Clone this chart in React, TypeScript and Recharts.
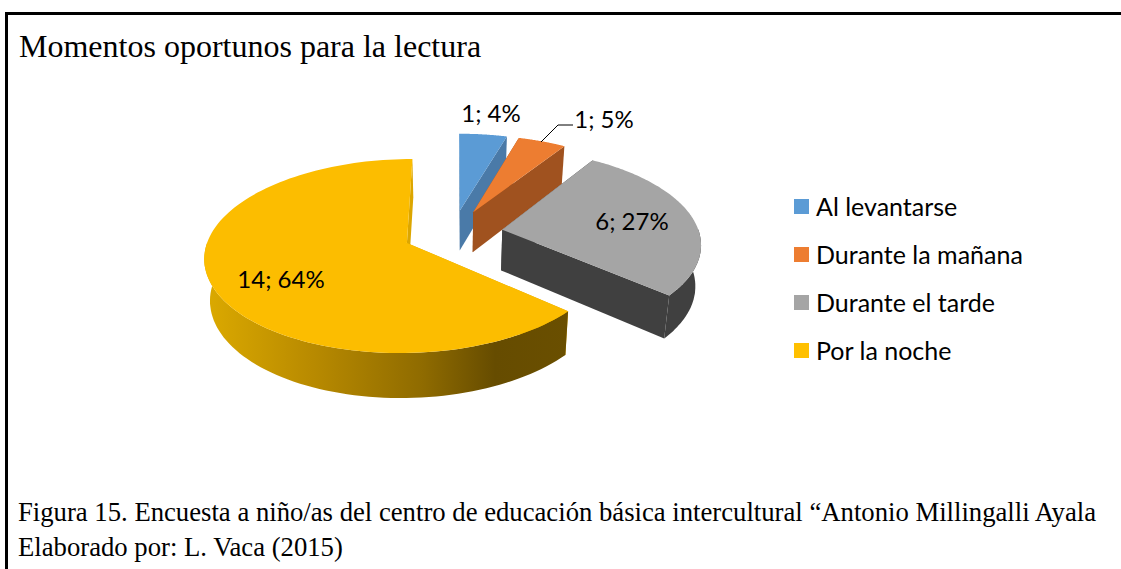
import React from 'react';
import { PieChart, Pie, Legend } from 'recharts';

const categories = ['Al levantarse', 'Durante la mañana', 'Durante el tarde', 'Por la noche'];
const counts = [1, 1, 6, 14];
const shares = [4, 5, 27, 64];
const topColors = ['#5b9bd5', '#ed7d31', '#a5a5a5', '#fcbd00'];
const sideColors = ['#4a7aa8', '#a0521f', '#404040', '#dca600'];
const legendColors = ['#5b9bd5', '#ed7d31', '#a5a5a5', '#ffc000'];

const chartData = categories.map((name, i) => ({
  name,
  count: counts[i],
  share: shares[i],
  fill: topColors[i],
}));

// tilted pie: plane coordinates are pushed through a small perspective
const CX = 453;
const CY = 233;
const RADIUS = 197;
const EXPLODE = 50;
const TILT = 0.47;
const PERSP = 0.000677;

const LABEL_SPOTS = [
  { x: 491, y: 112 },
  { x: 604, y: 118 },
  { x: 632, y: 220 },
  { x: 281, y: 278 },
];

const project = (u: number, v: number) => {
  const s = 1 / (1 + PERSP * v);
  return { x: CX + u * s, y: CY - v * TILT * s };
};

const drop = (p: { x: number; y: number }) => ({
  x: CX + (p.x - CX) * 0.977,
  y: p.y + 40 + 0.035 * (p.y - 210),
});

const toPath = (pts: { x: number; y: number }[]) =>
  'M' + pts.map(p => `${p.x.toFixed(1)},${p.y.toFixed(1)}`).join('L') + 'Z';

const Slice3D = (props: any) => {
  const { startAngle, endAngle, outerRadius, midAngle, index, name } = props;
  const i = index ?? categories.indexOf(name);
  const rad = Math.PI / 180;
  const ou = EXPLODE * Math.cos(midAngle * rad);
  const ov = EXPLODE * Math.sin(midAngle * rad);
  const apex = project(ou, ov);
  const arc: { x: number; y: number }[] = [];
  const front: { x: number; y: number }[] = [];
  const steps = 120;
  for (let s = 0; s <= steps; s++) {
    const a = (startAngle + ((endAngle - startAngle) * s) / steps) * rad;
    const p = project(ou + outerRadius * Math.cos(a), ov + outerRadius * Math.sin(a));
    arc.push(p);
    // only the part of the rim that faces the viewer gets a wall
    if (Math.sin(a) < 0.02) front.push(p);
  }
  const first = arc[0];
  const last = arc[arc.length - 1];
  const wallFill = i === 3 ? 'url(#nightWall)' : sideColors[i];
  return (
    <g>
      {i === 3 && (
        <defs>
          <linearGradient id="nightWall" gradientUnits="userSpaceOnUse" x1={204} y1={0} x2={568} y2={0}>
            <stop offset="0" stopColor="#dcaa00" />
            <stop offset="0.3" stopColor="#b88a00" />
            <stop offset="0.6" stopColor="#8f6b00" />
            <stop offset="0.8" stopColor="#664c00" />
            <stop offset="1" stopColor="#6a4f00" />
          </linearGradient>
        </defs>
      )}
      <path d={toPath([apex, first, drop(first), drop(apex)])} fill={sideColors[i]} />
      <path d={toPath([apex, last, drop(last), drop(apex)])} fill={sideColors[i]} />
      {front.length > 1 && <path d={toPath([...front, ...front.map(drop).reverse()])} fill={wallFill} />}
      <path d={toPath([apex, ...arc])} fill={topColors[i]} />
    </g>
  );
};

const renderLabel = (props: any) => {
  const i = props.index;
  const spot = LABEL_SPOTS[i];
  return (
    <g>
      {i === 1 && <polyline points="541,142 558,125 573,125" fill="none" stroke="#000" strokeWidth={1} />}
      <text x={spot.x} y={spot.y} textAnchor="middle" dominantBaseline="central" fontFamily="Lato" fontSize={24} fill="#000">
        {`${counts[i]}; ${shares[i]}%`}
      </text>
    </g>
  );
};

const renderLegend = () => (
  <div style={{ fontFamily: 'Lato', fontSize: 25, color: '#000' }}>
    {categories.map((name, i) => (
      <div key={name} style={{ height: 48, display: 'flex', alignItems: 'center' }}>
        <span style={{ width: 15, height: 15, background: legendColors[i], marginRight: 7 }} />
        {name}
      </div>
    ))}
  </div>
);

const App: React.FC = () => (
  <div style={{ position: 'absolute', left: 0, top: 0, width: 1121, height: 569, overflow: 'hidden', background: '#fff' }}>
    <div style={{ position: 'absolute', left: 5, top: 12, width: 1116, height: 557, borderTop: '3px solid #000', borderLeft: '3px solid #000' }} />
    <div style={{ position: 'absolute', left: 19, top: 28, fontFamily: '"Liberation Serif"', fontSize: 32, color: '#000', whiteSpace: 'nowrap' }}>
      Momentos oportunos para la lectura
    </div>
    <PieChart width={1121} height={569} style={{ position: 'absolute', left: 0, top: 0 }}>
      <Pie
        data={chartData}
        dataKey="count"
        nameKey="name"
        cx={CX}
        cy={CY}
        outerRadius={RADIUS}
        startAngle={90}
        endAngle={-270}
        paddingAngle={0}
        shape={Slice3D}
        label={renderLabel}
        labelLine={false}
        isAnimationActive={false}
      />
      <Legend content={renderLegend} wrapperStyle={{ position: 'absolute', left: 794, top: 182, width: 300 }} />
    </PieChart>
    <div style={{ position: 'absolute', left: 18, top: 495, fontFamily: '"Liberation Serif"', fontSize: 26.7, lineHeight: '35px', color: '#000', whiteSpace: 'nowrap' }}>
      Figura 15. Encuesta a niño/as del centro de educación básica intercultural “Antonio Millingalli Ayala
      <br />
      Elaborado por: L. Vaca (2015)
    </div>
  </div>
);

export default App;
